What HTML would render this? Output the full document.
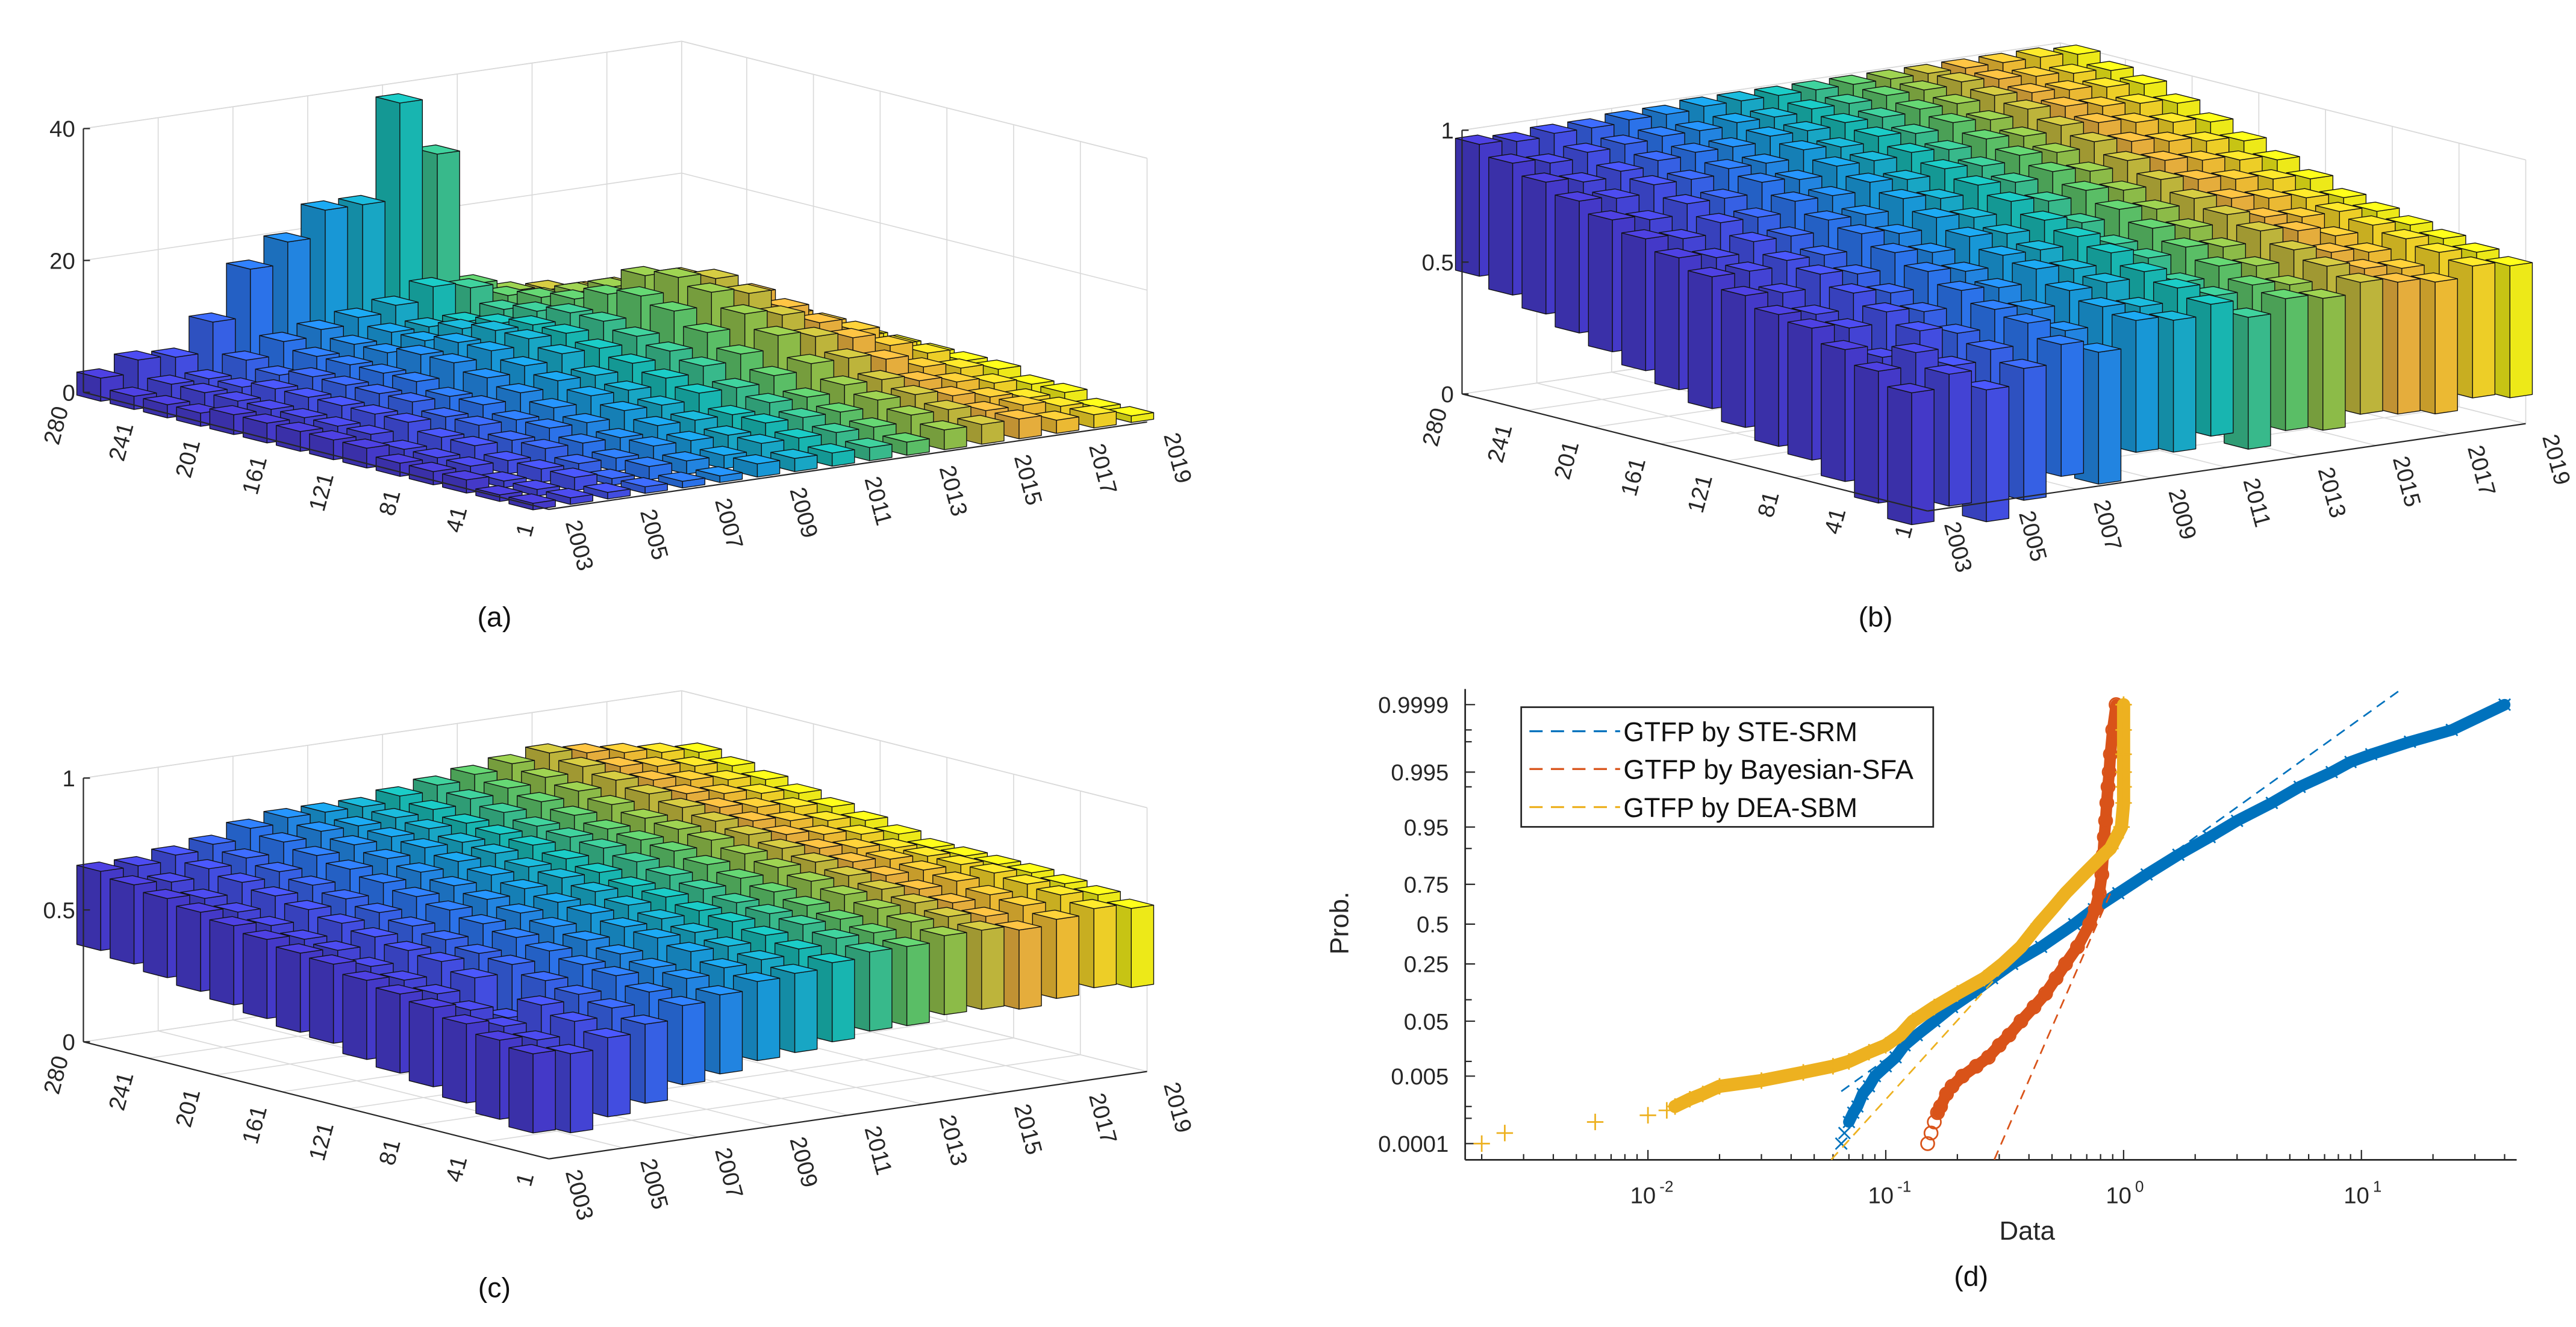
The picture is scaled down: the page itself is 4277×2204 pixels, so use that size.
<!DOCTYPE html>
<html><head><meta charset="utf-8">
<style>
html,body{margin:0;padding:0;background:#fff;}
svg{display:block;font-family:"Liberation Sans",Arial,sans-serif;}
</style></head>
<body>
<svg id="fig" width="4277" height="2204" viewBox="0 0 1563 805" preserveAspectRatio="none" xmlns="http://www.w3.org/2000/svg">
<rect x="0" y="0" width="1563" height="805" fill="#fff"/>
</svg>
<script>
// ---------- data: panel (a) bar heights [region row][year] ----------
const years = [2003,2004,2005,2006,2007,2008,2009,2010,2011,2012,2013,2014,2015,2016,2017,2018,2019];
const yearTickLabels = ["2003","2005","2007","2009","2011","2013","2015","2017","2019"];
const regionTickLabels = ["1","41","81","121","161","201","241","280"];
const regionTicks = [1,41,81,121,161,201,241,280];
const zTicksA = [0,20,40];
const zTicksBC = [0,0.5,1];
const heightsA = [
[1,1,1,1,1,1,2,2,2,2,2,3,3,3,2,2,1],
[1,1,2,1,2,2,2,3,3,3,3,4,4,3,3,2,1],
[2,1,2,2,2,3,3,3,4,4,4,5,5,4,3,2,2],
[2,2,2,3,3,3,4,4,4,5,5,6,6,5,4,3,2],
[2,2,3,3,4,4,5,5,6,6,7,8,8,7,5,4,3],
[3,2,3,4,4,5,6,6,7,8,9,11,10,9,7,5,3],
[3,3,4,4,5,6,7,7,8,9,11,13,12,10,8,5,3],
[3,3,4,5,5,7,8,9,9,10,13,15,14,11,8,5,3],
[3,3,4,5,6,8,9,10,10,11,14,16,15,12,8,5,3],
[3,3,4,5,6,8,9,10,10,11,13,15,14,11,8,4,3],
[2,3,4,5,6,7,8,9,9,10,11,12,12,10,7,4,2],
[2,3,3,4,6,7,8,8,8,9,10,10,10,8,6,4,2],
[2,3,3,5,7,8,9,10,12,11,9,8,8,7,5,3,2],
[3.5,5.4,5,9.5,16.7,20,24,24,38.6,30,9.5,7.6,7,6,5,3,2]
];
const valuesB = [
[.45,.5,.42,.48,.55,.5,.6,.58,.62,.55,.6,.58,.62,.6,.58,.62,.6],
[.5,.55,.48,.52,.6,.55,.62,.6,.65,.6,.62,.6,.65,.62,.6,.64,.62],
[.55,.5,.58,.55,.62,.6,.65,.66,.68,.62,.66,.64,.68,.65,.63,.66,.64],
[.6,.58,.62,.6,.66,.65,.7,.68,.72,.68,.7,.68,.72,.7,.66,.68,.66],
[.62,.6,.66,.64,.7,.68,.72,.72,.75,.7,.74,.72,.75,.72,.7,.7,.68],
[.66,.65,.7,.68,.74,.72,.76,.75,.78,.75,.78,.76,.78,.76,.74,.72,.7],
[.7,.7,.72,.72,.78,.76,.8,.78,.82,.8,.82,.8,.82,.8,.78,.76,.74],
[.74,.72,.76,.76,.8,.8,.84,.82,.85,.84,.86,.84,.86,.84,.82,.8,.78],
[.78,.76,.8,.8,.84,.84,.87,.86,.88,.87,.89,.88,.9,.88,.86,.84,.82],
[.82,.8,.84,.84,.88,.87,.9,.9,.91,.9,.92,.91,.93,.92,.9,.88,.86],
[.86,.85,.88,.88,.9,.9,.93,.92,.94,.93,.95,.94,.96,.95,.93,.92,.9],
[.9,.88,.9,.92,.93,.93,.95,.95,.96,.96,.97,.97,.98,.97,.96,.95,.94],
[.94,.92,.94,.95,.96,.96,.97,.97,.98,.98,.99,.99,1,.99,.98,.97,.96],
[.98,.97,.98,.98,.99,.99,1,1,1,1,1,1,1,1,1,1,.99]
];
const valuesC = [
[.4,.38,.42,.45,.5,.52,.55,.56,.58,.6,.6,.62,.62,.6,.62,.64,.62],
[.42,.4,.45,.48,.52,.55,.57,.58,.6,.62,.62,.64,.64,.62,.64,.66,.64],
[.45,.42,.48,.5,.55,.56,.6,.6,.62,.64,.64,.66,.66,.64,.65,.67,.65],
[.48,.45,.4,.52,.56,.58,.62,.62,.64,.65,.66,.68,.68,.66,.67,.68,.66],
[.5,.48,.52,.55,.58,.6,.63,.64,.65,.66,.68,.7,.7,.68,.68,.68,.66],
[.52,.5,.55,.56,.6,.62,.65,.66,.67,.68,.7,.72,.72,.7,.69,.68,.66],
[.55,.52,.56,.58,.62,.64,.66,.68,.68,.7,.72,.74,.74,.72,.7,.68,.66],
[.56,.55,.58,.6,.64,.66,.68,.7,.7,.72,.74,.76,.76,.74,.72,.7,.68],
[.58,.56,.6,.62,.66,.68,.7,.71,.72,.74,.75,.77,.78,.76,.74,.72,.7],
[.6,.58,.62,.64,.68,.7,.72,.73,.74,.75,.76,.78,.8,.78,.76,.74,.72],
[.62,.6,.64,.66,.7,.72,.74,.74,.75,.76,.78,.8,.82,.8,.78,.76,.74],
[.64,.62,.66,.68,.72,.74,.75,.76,.76,.78,.8,.82,.84,.82,.8,.78,.76],
[.66,.65,.68,.7,.74,.76,.76,.77,.78,.8,.82,.84,.86,.84,.82,.8,.78],
[.68,.68,.7,.72,.76,.78,.78,.78,.8,.82,.84,.86,.88,.86,.84,.82,.8]
];
// ---------- data: panel (d) probability plot ----------
const steP = [0.0001,0.0002,0.0004,0.0007,0.001,0.002,0.003,0.005,0.008,0.012,0.02,0.03,0.05,0.08,0.12,0.18,0.25,0.35,0.5,0.6,0.7,0.8,0.88,0.93,0.96,0.98,0.99,0.995,0.997,0.998,0.999,0.9995,0.9999];
const steX = [0.065,0.067,0.07,0.073,0.076,0.08,0.085,0.09,0.1,0.11,0.12,0.135,0.16,0.19,0.23,0.28,0.34,0.45,0.62,0.75,0.95,1.25,1.7,2.3,3.0,4.2,5.5,7.5,9,11,16,24,40];
const bayP = [0.0001,0.0002,0.0004,0.0007,0.001,0.002,0.003,0.005,0.008,0.012,0.02,0.03,0.05,0.08,0.12,0.18,0.25,0.35,0.5,0.6,0.7,0.8,0.88,0.93,0.96,0.98,0.99,0.995,0.998,0.9995,0.9999];
const bayX = [0.15,0.155,0.16,0.165,0.17,0.18,0.19,0.21,0.24,0.27,0.3,0.33,0.37,0.42,0.47,0.52,0.57,0.64,0.72,0.76,0.79,0.81,0.82,0.83,0.84,0.85,0.86,0.87,0.88,0.9,0.93];
const deaP = [0.0001,0.0002,0.0004,0.0006,0.0008,0.001,0.0015,0.002,0.003,0.004,0.006,0.008,0.01,0.015,0.02,0.03,0.05,0.08,0.12,0.18,0.25,0.35,0.5,0.6,0.7,0.8,0.87,0.9,0.95,0.98,0.99,0.995,0.998,0.9995,0.9999];
const deaX = [0.002,0.0025,0.006,0.01,0.012,0.013,0.015,0.017,0.02,0.03,0.045,0.06,0.07,0.085,0.1,0.115,0.13,0.16,0.2,0.26,0.31,0.37,0.44,0.5,0.57,0.68,0.8,0.88,0.98,1.0,1.0,1.0,1.0,1.0,1.0];
const steFitX = [0.065,14.3], steFitP = [0.0023,0.99996];
const bayFitX = [0.286,0.9], bayFitP = [0.000033,0.73];
const deaFitX = [0.059,1.0], deaFitP = [0.000033,0.93];
const probTicks = [0.0001,0.005,0.05,0.25,0.5,0.75,0.95,0.995,0.9999];
const probTickLabels = ["0.0001","0.005","0.05","0.25","0.5","0.75","0.95","0.995","0.9999"];
const probMinor = [0.0005,0.001,0.01,0.1,0.9,0.99,0.999,0.9995];
const xDecades = [-2,-1,0,1];

const NS = "http://www.w3.org/2000/svg";
const svg = document.getElementById('fig');
function mk(tag, attrs, parent){
  const e = document.createElementNS(NS, tag);
  for (const k in attrs) e.setAttribute(k, attrs[k]);
  (parent||svg).appendChild(e);
  return e;
}
const stops = [[0,[72,60,210]],[0.12,[70,80,235]],[0.25,[45,120,245]],[0.38,[25,160,225]],[0.5,[25,190,185]],[0.62,[90,200,110]],[0.72,[175,195,60]],[0.8,[240,180,65]],[0.9,[250,200,50]],[1,[249,245,25]]];
function cmap(t, f){
  let i=0; while(i<stops.length-2 && t>stops[i+1][0]) i++;
  const a=stops[i], b=stops[i+1], u=(t-a[0])/(b[0]-a[0]);
  const c=a[1].map((v,j)=>Math.round(Math.min(255,(v+(b[1][j]-v)*u)*f)));
  return 'rgb('+c.join(',')+')';
}
const U=[-282.4,-71], V=[363,-53];
function panel3d(name, F, zmax, zTicks, zLabels, data, boxLen){
  const k = 160/zmax;
  const g = mk('g',{});
  
  
  const P=(rf,yf,z)=>[F[0]+rf*U[0]+yf*V[0], F[1]+rf*U[1]+yf*V[1]-z*k];
  const line=(a,b,st,w,nm)=>{const l=mk('line',{x1:a[0],y1:a[1],x2:b[0],y2:b[1],stroke:st,'stroke-width':w},g);   return l;};
  const grid='#d9d9d9';
  for (const z of zTicks.concat([zmax])){
    line(P(1,0,z),P(1,1,z),grid,0.6,'wall-gridline');
    line(P(1,1,z),P(0,1,z),grid,0.6,'wall-gridline');
  }
  yearTickLabels.forEach(s=>{const yf=(+s-2003)/16;
    line(P(1,yf,0),P(1,yf,zmax),grid,0.6,'wall-gridline');
    line(P(0,yf,0),P(1,yf,0),grid,0.6,'floor-gridline');});
  regionTicks.forEach(r=>{const rf=(r-1)/279;
    line(P(rf,1,0),P(rf,1,zmax),grid,0.6,'wall-gridline');
    line(P(rf,0,0),P(rf,1,0),grid,0.6,'floor-gridline');});
  const NR=data.length, bars=[];
  data.forEach((row,i)=>row.forEach((v,j)=>bars.push({i,j,v})));
  bars.sort((a,b)=>((b.i+0.5)/NR+b.j/16)-((a.i+0.5)/NR+a.j/16));
  const hr=0.36/NR, hy=0.3/16;
  bars.forEach(b=>{
    const rc=(b.i+0.5)/NR, yc=b.j/16;
    const z1=b.v, z0=boxLen==null?0:b.v-boxLen;
    const r0=rc-hr,r1=rc+hr,y0=yc-hy,y1=yc+hy;
    const t=b.j/16;
    const faces=[
      [[P(r0,y0,z0),P(r0,y1,z0),P(r0,y1,z1),P(r0,y0,z1)],0.95],
      [[P(r0,y0,z0),P(r1,y0,z0),P(r1,y0,z1),P(r0,y0,z1)],0.8],
      [[P(r0,y0,z1),P(r0,y1,z1),P(r1,y1,z1),P(r1,y0,z1)],1.08]];
    faces.forEach(f=>{
      const p=mk('polygon',{points:f[0].map(q=>q[0].toFixed(1)+','+q[1].toFixed(1)).join(' '),fill:cmap(t,f[1]),stroke:'#111','stroke-width':0.5,'stroke-linejoin':'round'},g);
      
      
    });
  });
  line(P(1,0,0),P(1,0,zmax),'#262626',0.8,'z-axis-line');
  line(P(1,0,0),P(0,0,0),'#262626',0.8,'region-axis-line');
  line(P(0,0,0),P(0,1,0),'#262626',0.8,'year-axis-line');
  zTicks.forEach((z,idx)=>{
    const p=P(1,0,z);
    line(p,[p[0]+4,p[1]],'#262626',0.8,'z-tick');
    const t=mk('text',{x:p[0]-5,y:p[1]+5,'font-size':14,'text-anchor':'end',fill:'#262626'},g);
    t.textContent=zLabels[idx];
    
    
  });
  regionTicks.forEach((r,idx)=>{
    const p=P((r-1)/279,0,0);
    const x=p[0]-9, y=p[1]+10;
    const t=mk('text',{x:x,y:y,'font-size':14,'text-anchor':'end',fill:'#262626',transform:'rotate(-75 '+x+' '+y+')'},g);
    t.textContent=regionTickLabels[idx];
    
    
  });
  yearTickLabels.forEach(s=>{
    const p=P(0,(+s-2003)/16,0);
    const x=p[0]+10,y=p[1]+8;
    const t=mk('text',{x:x,y:y,'font-size':14,'text-anchor':'start',fill:'#262626',transform:'rotate(75 '+x+' '+y+')'},g);
    t.textContent=s;
    
    
  });
}
panel3d('panel-a-chart',[333,309],40,zTicksA,["0","20","40"],heightsA,null);
panel3d('panel-b-chart',[1169.5,310],1,zTicksBC,["0","0.5","1"],valuesB,0.5);
panel3d('panel-c-chart',[333,703],1,zTicksBC,["0","0.5","1"],valuesC,0.3);

[["(a)",300,380],["(b)",1138,380],["(c)",300,787],["(d)",1196,780]].forEach(c=>{
  const t=mk('text',{x:c[1],y:c[2],'font-size':17,'text-anchor':'middle',fill:'#111'});
  t.textContent=c[0];
  
  
});

function norminv(p){
  const a=[-39.69683028665376,220.9460984245205,-275.9285104469687,138.3577518672690,-30.66479806614716,2.506628277459239];
  const b=[-54.47609879822406,161.5858368580409,-155.6989798598866,66.80131188771972,-13.28068155288572];
  const c=[-0.007784894002430293,-0.3223964580411365,-2.400758277161838,-2.549732539343734,4.374664141464968,2.938163982698783];
  const d=[0.007784695709041462,0.3224671290700398,2.445134137142996,3.754408661907416];
  const pl=0.02425;let q,r;
  if(p<pl){q=Math.sqrt(-2*Math.log(p));return (((((c[0]*q+c[1])*q+c[2])*q+c[3])*q+c[4])*q+c[5])/((((d[0]*q+d[1])*q+d[2])*q+d[3])*q+1);}
  if(p<=1-pl){q=p-0.5;r=q*q;return (((((a[0]*r+a[1])*r+a[2])*r+a[3])*r+a[4])*r+a[5])*q/(((((b[0]*r+b[1])*r+b[2])*r+b[3])*r+b[4])*r+1);}
  q=Math.sqrt(-2*Math.log(1-p));return -(((((c[0]*q+c[1])*q+c[2])*q+c[3])*q+c[4])*q+c[5])/((((d[0]*q+d[1])*q+d[2])*q+d[3])*q+1);
}
const AX={left:889,right:1527,top:418,bottom:703.6};
const xs=v=>1288.5+144.3*Math.log10(v);
const ys=p=>560.6-35.8*norminv(p);
const gd=mk('g',{});


const axL=mk('line',{x1:AX.left,y1:AX.top,x2:AX.left,y2:AX.bottom,stroke:'#262626','stroke-width':1},gd);


const axB=mk('line',{x1:AX.left,y1:AX.bottom,x2:AX.right,y2:AX.bottom,stroke:'#262626','stroke-width':1},gd);


probTicks.forEach((p,i)=>{
  const y=ys(p);
  const l=mk('line',{x1:AX.left,y1:y,x2:AX.left+6,y2:y,stroke:'#262626','stroke-width':0.8},gd);
  
  
  const t=mk('text',{x:AX.left-10,y:y+5,'font-size':14,'text-anchor':'end',fill:'#262626'},gd);
  t.textContent=probTickLabels[i];
  
  
});
probMinor.forEach(p=>{
  const y=ys(p);
  const l=mk('line',{x1:AX.left,y1:y,x2:AX.left+4,y2:y,stroke:'#262626','stroke-width':0.8},gd);
  
  
});
for(let dcd=-3;dcd<=1;dcd++){for(let m=1;m<10;m++){
  const x=xs(m*Math.pow(10,dcd)); if(x<AX.left||x>AX.right) continue;
  const l=mk('line',{x1:x,y1:AX.bottom,x2:x,y2:AX.bottom-(m===1?6:3.5),stroke:'#262626','stroke-width':0.8},gd);
  
  
}}
xDecades.forEach(dc=>{
  const x=xs(Math.pow(10,dc));
  const t=mk('text',{x:x-3,y:730,'font-size':14,'text-anchor':'middle',fill:'#262626'},gd);
  t.textContent='10';
  
  
  const s=mk('text',{x:x+7,y:723,'font-size':9.5,'text-anchor':'start',fill:'#262626'},gd);
  s.textContent=String(dc);
  
  
});
const xl=mk('text',{x:1230,y:752,'font-size':16,'text-anchor':'middle',fill:'#262626'},gd);
xl.textContent='Data';


const yl=mk('text',{x:818,y:560,'font-size':16,'text-anchor':'middle',fill:'#262626',transform:'rotate(-90 818 560)'},gd);
yl.textContent='Prob.';



function series(name,X,P,color,marker,bandFrom,bandW,fitX,fitP){
  const g=mk('g',{},gd);
  
  
  const fl=mk('line',{x1:xs(fitX[0]),y1:ys(fitP[0]),x2:xs(fitX[1]),y2:ys(fitP[1]),stroke:color,'stroke-width':1,'stroke-dasharray':'6 4'},g);
  
  
  const pts=X.slice(bandFrom).map((x,i)=>xs(x).toFixed(1)+','+ys(P[i+bandFrom]).toFixed(1)).join(' ');
  const band=mk('polyline',{points:pts,fill:'none',stroke:color,'stroke-width':bandW,'stroke-linejoin':'round','stroke-linecap':'round'},g);
  
  
  X.forEach((x,i)=>{
    const cx=xs(x), cy=ys(P[i]); let e;
    if(marker==='o') e=mk('circle',{cx:cx,cy:cy,r:4,fill:'none',stroke:color,'stroke-width':1},g);
    else if(marker==='x') e=mk('path',{d:`M${cx-3.5} ${cy-3.5}L${cx+3.5} ${cy+3.5}M${cx-3.5} ${cy+3.5}L${cx+3.5} ${cy-3.5}`,stroke:color,'stroke-width':1},g);
    else e=mk('path',{d:`M${cx-5} ${cy}H${cx+5}M${cx} ${cy-5}V${cy+5}`,stroke:color,'stroke-width':1},g);
    
    
  });
}
series('series-ste-srm',steX,steP,'#0072bd','x',2,7,steFitX,steFitP);
series('series-bayesian-sfa',bayX,bayP,'#d95319','o',3,7,bayFitX,bayFitP);
series('series-dea-sbm',deaX,deaP,'#edb120','+',5,8,deaFitX,deaFitP);

const lg=mk('g',{},gd);


const lb=mk('rect',{x:923,y:429,width:250,height:72.6,fill:'#fff',stroke:'#262626','stroke-width':1},lg);


[["GTFP by STE-SRM",'#0072bd',443.6,142],["GTFP by Bayesian-SFA",'#d95319',466.5,176],["GTFP by DEA-SBM",'#edb120',489.6,142]].forEach(e=>{
  const l=mk('line',{x1:928,y1:e[2],x2:983,y2:e[2],stroke:e[1],'stroke-width':1.2,'stroke-dasharray':'8 5'},lg);
  
  
  const t=mk('text',{x:985,y:e[2]+6,'font-size':16.5,fill:'#111',textLength:e[3],lengthAdjust:'spacingAndGlyphs'},lg);
  t.textContent=e[0];
  
  
});
</script>
</body></html>
